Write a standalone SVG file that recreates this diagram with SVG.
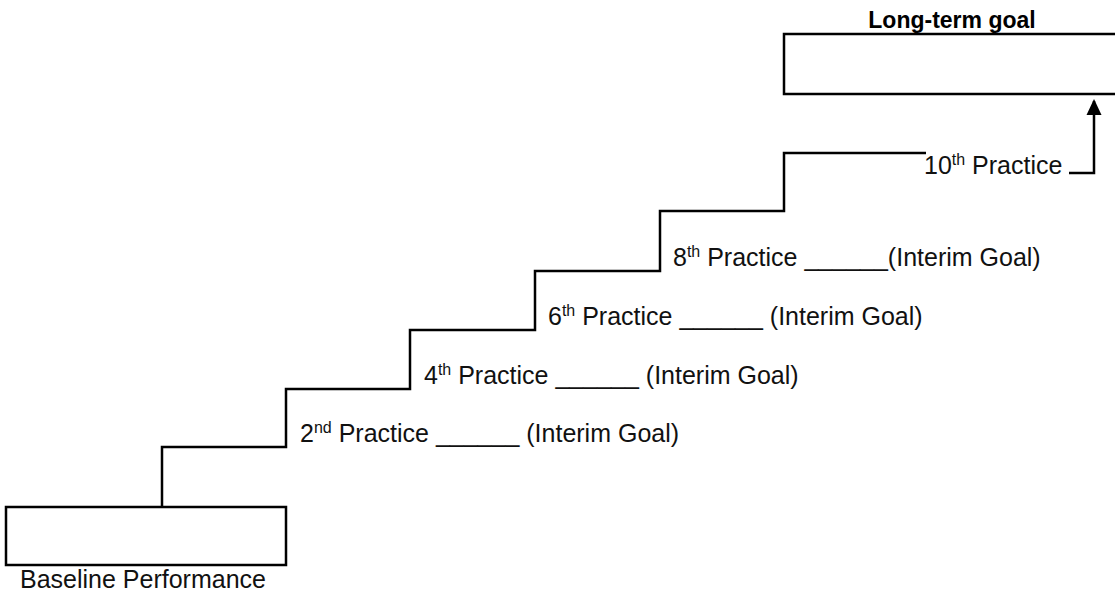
<svg xmlns="http://www.w3.org/2000/svg" width="1115" height="593" viewBox="0 0 1115 593">
<style>
  .box { fill: #ffffff; stroke: #000000; stroke-width: 2.5; }
  .line { fill: none; stroke: #000000; stroke-width: 2.5; }
  .lbl { font-family: "Liberation Sans", Arial, sans-serif; font-size: 25px; fill: #111111; }
  .title { font-family: "Liberation Sans", Arial, sans-serif; font-size: 23px; font-weight: bold; fill: #000000; }
  .sup { font-size: 16px; }
</style>
<rect width="1115" height="593" fill="#ffffff"/>
<g id="connectors">
  <polyline class="line" points="162,507 162,447 286,447 286,389 410,389 410,330 535,330 535,271 660,271 660,211 784,211 784,153 926,153"/>
  <polyline class="line" points="1069,173 1094,173 1094,101"/>
  <path d="M1086.5,115 L1094,99 L1101.5,115 Z" fill="#000000"/>
</g>
<g id="baseline">
  <rect class="box" x="6" y="507" width="280" height="58"/>
  <text class="lbl" x="20" y="588">Baseline Performance</text>
</g>
<g id="practice2">
  <text class="lbl" x="300" y="442">2<tspan class="sup" dy="-9">nd</tspan><tspan dy="9"> Practice ______ (Interim Goal)</tspan></text>
</g>
<g id="practice4">
  <text class="lbl" x="424" y="384">4<tspan class="sup" dy="-9">th</tspan><tspan dy="9"> Practice ______ (Interim Goal)</tspan></text>
</g>
<g id="practice6">
  <text class="lbl" x="548" y="325">6<tspan class="sup" dy="-9">th</tspan><tspan dy="9"> Practice ______ (Interim Goal)</tspan></text>
</g>
<g id="practice8">
  <text class="lbl" x="673" y="266">8<tspan class="sup" dy="-9">th</tspan><tspan dy="9"> Practice ______(Interim Goal)</tspan></text>
</g>
<g id="practice10">
  <text class="lbl" x="924" y="174">10<tspan class="sup" dy="-9">th</tspan><tspan dy="9"> Practice</tspan></text>
</g>
<g id="longterm">
  <rect class="box" x="784" y="34" width="340" height="60"/>
  <text class="title" x="952" y="28" text-anchor="middle">Long-term goal</text>
</g>
</svg>
